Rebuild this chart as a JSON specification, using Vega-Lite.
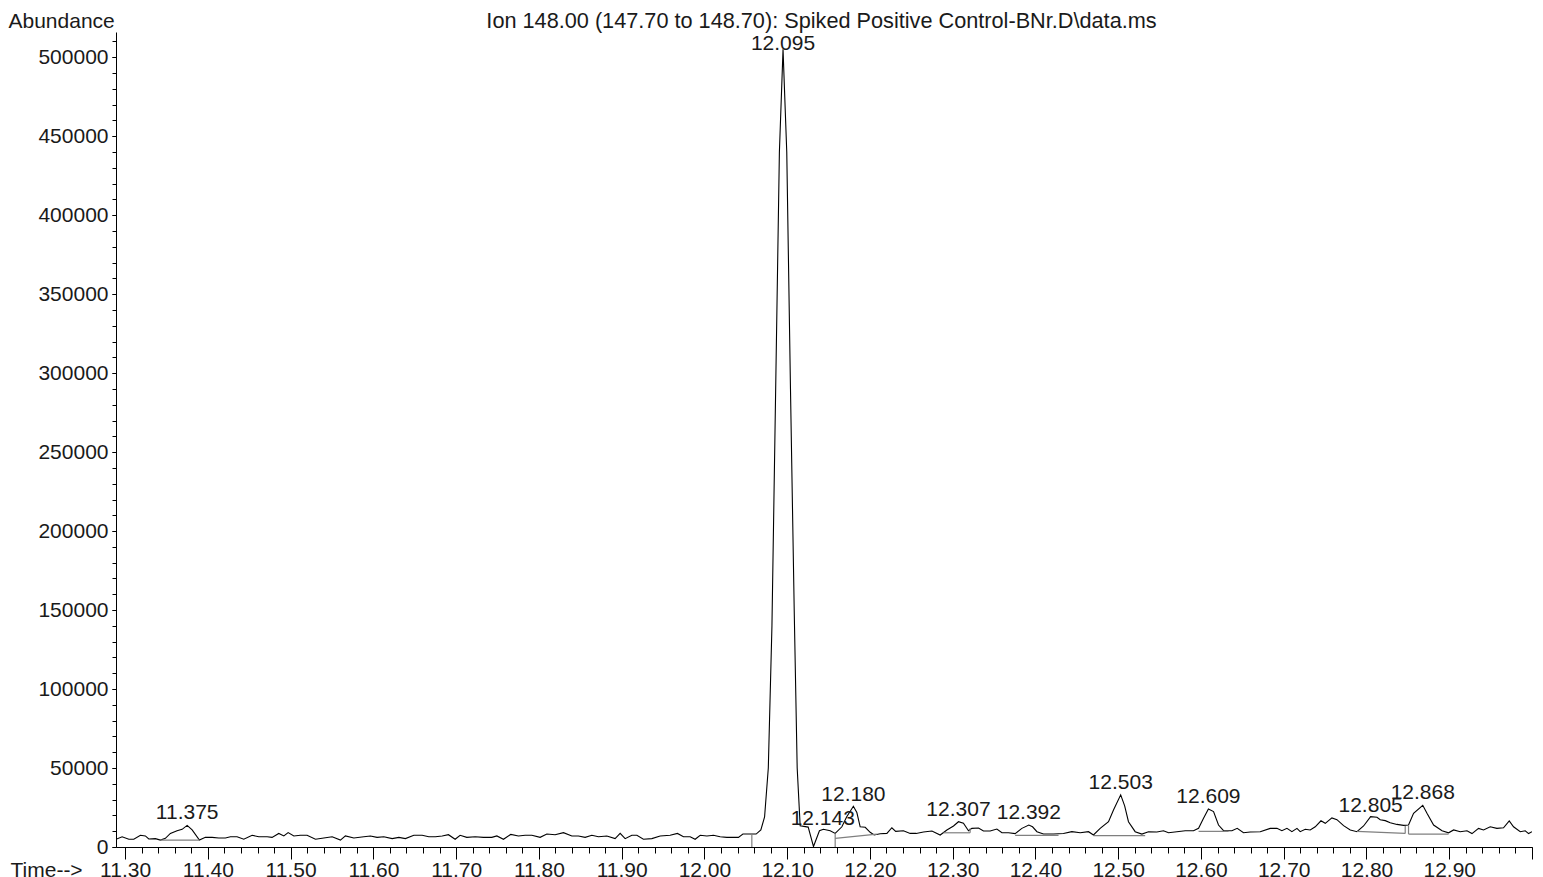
{
  "$schema": "https://vega.github.io/schema/vega-lite/v6.json",
  "width": 1416,
  "height": 815,
  "autosize": {"type": "none"},
  "padding": {"left": 116, "top": 32, "right": 11, "bottom": 30},
  "background": "white",
  "config": {
    "font": "Liberation Sans",
    "view": {"stroke": null},
    "axis": {"grid": false, "domainColor": "#000000", "tickColor": "#000000", "labelColor": "#1a1a1a", "titleColor": "#1a1a1a", "labelFontSize": 21, "titleFontSize": 21, "titleFontWeight": "normal", "labelOverlap": false, "labelFlush": false, "domainWidth": 1, "tickWidth": 1}
  },
  "datasets": {
    "trace": [
      {"t": 11.289, "a": 4900}, {"t": 11.2964, "a": 6500}, {"t": 11.3045, "a": 4900}, {"t": 11.3105, "a": 4900},
      {"t": 11.3185, "a": 7400}, {"t": 11.3245, "a": 7000}, {"t": 11.3286, "a": 5100}, {"t": 11.3366, "a": 5300},
      {"t": 11.3427, "a": 4400}, {"t": 11.3487, "a": 5500}, {"t": 11.3547, "a": 8600}, {"t": 11.3628, "a": 10300},
      {"t": 11.3689, "a": 11200}, {"t": 11.375, "a": 13700}, {"t": 11.381, "a": 10800}, {"t": 11.3898, "a": 4400},
      {"t": 11.397, "a": 6100}, {"t": 11.4051, "a": 6100}, {"t": 11.4132, "a": 5700}, {"t": 11.4212, "a": 5700},
      {"t": 11.4273, "a": 6500}, {"t": 11.4353, "a": 6500}, {"t": 11.4434, "a": 4900}, {"t": 11.4535, "a": 7400},
      {"t": 11.4616, "a": 6500}, {"t": 11.4716, "a": 6500}, {"t": 11.4776, "a": 6100}, {"t": 11.4857, "a": 8600},
      {"t": 11.4918, "a": 7000}, {"t": 11.497, "a": 9100}, {"t": 11.5039, "a": 7000}, {"t": 11.5118, "a": 7400},
      {"t": 11.5199, "a": 7400}, {"t": 11.53, "a": 4900}, {"t": 11.5401, "a": 5700}, {"t": 11.5502, "a": 6500},
      {"t": 11.5602, "a": 4400}, {"t": 11.5662, "a": 7000}, {"t": 11.5764, "a": 5700}, {"t": 11.5885, "a": 6500},
      {"t": 11.5964, "a": 7000}, {"t": 11.6045, "a": 6100}, {"t": 11.6126, "a": 6500}, {"t": 11.6227, "a": 5300},
      {"t": 11.6308, "a": 6100}, {"t": 11.6387, "a": 5300}, {"t": 11.6489, "a": 7400}, {"t": 11.6589, "a": 7400},
      {"t": 11.667, "a": 6500}, {"t": 11.675, "a": 6500}, {"t": 11.6831, "a": 7000}, {"t": 11.6907, "a": 7800},
      {"t": 11.6988, "a": 4900}, {"t": 11.7048, "a": 7400}, {"t": 11.7129, "a": 6100}, {"t": 11.723, "a": 6500},
      {"t": 11.733, "a": 6100}, {"t": 11.7431, "a": 6100}, {"t": 11.7492, "a": 7000}, {"t": 11.7572, "a": 4900},
      {"t": 11.7661, "a": 8000}, {"t": 11.7753, "a": 7000}, {"t": 11.7834, "a": 7400}, {"t": 11.7915, "a": 7400},
      {"t": 11.8015, "a": 6100}, {"t": 11.8096, "a": 8200}, {"t": 11.8196, "a": 7800}, {"t": 11.8297, "a": 9100},
      {"t": 11.8398, "a": 7000}, {"t": 11.8478, "a": 7000}, {"t": 11.8559, "a": 6100}, {"t": 11.864, "a": 7400},
      {"t": 11.872, "a": 6500}, {"t": 11.8821, "a": 7000}, {"t": 11.8921, "a": 5300}, {"t": 11.8982, "a": 8600},
      {"t": 11.9042, "a": 5300}, {"t": 11.9123, "a": 7400}, {"t": 11.9184, "a": 7400}, {"t": 11.9263, "a": 4900},
      {"t": 11.9365, "a": 5300}, {"t": 11.9465, "a": 7000}, {"t": 11.9586, "a": 7400}, {"t": 11.9674, "a": 8600},
      {"t": 11.9747, "a": 6500}, {"t": 11.9828, "a": 6500}, {"t": 11.9888, "a": 4900}, {"t": 11.9949, "a": 7400},
      {"t": 12.003, "a": 7000}, {"t": 12.0109, "a": 7400}, {"t": 12.019, "a": 6500}, {"t": 12.0271, "a": 6100},
      {"t": 12.0351, "a": 6100}, {"t": 12.0411, "a": 6100}, {"t": 12.0465, "a": 8200}, {"t": 12.0553, "a": 8200},
      {"t": 12.0625, "a": 8200}, {"t": 12.0682, "a": 10800}, {"t": 12.0727, "a": 19000}, {"t": 12.0772, "a": 50000},
      {"t": 12.0816, "a": 140000}, {"t": 12.0861, "a": 290000}, {"t": 12.0906, "a": 440000}, {"t": 12.095, "a": 505000},
      {"t": 12.0995, "a": 440000}, {"t": 12.104, "a": 290000}, {"t": 12.1085, "a": 150000}, {"t": 12.1121, "a": 50000},
      {"t": 12.1157, "a": 13500}, {"t": 12.1254, "a": 12600}, {"t": 12.1318, "a": 300}, {"t": 12.139, "a": 10300},
      {"t": 12.1438, "a": 11200}, {"t": 12.152, "a": 10300}, {"t": 12.158, "a": 8600}, {"t": 12.1661, "a": 12800},
      {"t": 12.1718, "a": 19000}, {"t": 12.18, "a": 25800}, {"t": 12.1842, "a": 21800}, {"t": 12.1882, "a": 12800},
      {"t": 12.1943, "a": 12500}, {"t": 12.2003, "a": 9300}, {"t": 12.2051, "a": 7600}, {"t": 12.2124, "a": 8400},
      {"t": 12.2205, "a": 8600}, {"t": 12.2265, "a": 12200}, {"t": 12.2311, "a": 9900}, {"t": 12.2405, "a": 10300},
      {"t": 12.2486, "a": 8600}, {"t": 12.2559, "a": 8600}, {"t": 12.2647, "a": 9500}, {"t": 12.2749, "a": 10100},
      {"t": 12.2849, "a": 7600}, {"t": 12.293, "a": 10800}, {"t": 12.301, "a": 13300}, {"t": 12.307, "a": 16000},
      {"t": 12.313, "a": 15000}, {"t": 12.3191, "a": 10300}, {"t": 12.3232, "a": 11800}, {"t": 12.3312, "a": 12000},
      {"t": 12.3372, "a": 10100}, {"t": 12.3453, "a": 10100}, {"t": 12.3534, "a": 11400}, {"t": 12.3595, "a": 9000},
      {"t": 12.3674, "a": 9000}, {"t": 12.3755, "a": 8500}, {"t": 12.3836, "a": 11800}, {"t": 12.392, "a": 13900},
      {"t": 12.3965, "a": 12800}, {"t": 12.4018, "a": 9700}, {"t": 12.4097, "a": 8200}, {"t": 12.4218, "a": 8200},
      {"t": 12.4339, "a": 8500}, {"t": 12.444, "a": 9700}, {"t": 12.4541, "a": 9000}, {"t": 12.4641, "a": 9700},
      {"t": 12.4701, "a": 7600}, {"t": 12.4782, "a": 11800}, {"t": 12.4883, "a": 16000}, {"t": 12.4943, "a": 23400},
      {"t": 12.503, "a": 33000}, {"t": 12.5078, "a": 26000}, {"t": 12.5124, "a": 16000}, {"t": 12.5205, "a": 9700},
      {"t": 12.5286, "a": 8200}, {"t": 12.5366, "a": 9700}, {"t": 12.5467, "a": 9500}, {"t": 12.5547, "a": 10300},
      {"t": 12.5608, "a": 9000}, {"t": 12.5709, "a": 9700}, {"t": 12.581, "a": 10300}, {"t": 12.591, "a": 10300},
      {"t": 12.5971, "a": 11800}, {"t": 12.6031, "a": 18200}, {"t": 12.609, "a": 24000}, {"t": 12.6152, "a": 22400},
      {"t": 12.6212, "a": 13900}, {"t": 12.6273, "a": 10300}, {"t": 12.6374, "a": 10300}, {"t": 12.6438, "a": 11800},
      {"t": 12.6514, "a": 9000}, {"t": 12.6595, "a": 9500}, {"t": 12.6716, "a": 9700}, {"t": 12.6837, "a": 11800},
      {"t": 12.6918, "a": 11800}, {"t": 12.6978, "a": 10300}, {"t": 12.7039, "a": 11800}, {"t": 12.7099, "a": 9700},
      {"t": 12.716, "a": 11800}, {"t": 12.7199, "a": 9700}, {"t": 12.726, "a": 11200}, {"t": 12.732, "a": 10800},
      {"t": 12.7381, "a": 12800}, {"t": 12.745, "a": 16600}, {"t": 12.7502, "a": 15000}, {"t": 12.7582, "a": 18400},
      {"t": 12.7643, "a": 17300}, {"t": 12.7723, "a": 13500}, {"t": 12.7804, "a": 10800}, {"t": 12.7885, "a": 9700},
      {"t": 12.7965, "a": 13300}, {"t": 12.805, "a": 19200}, {"t": 12.8127, "a": 18800}, {"t": 12.8166, "a": 17300},
      {"t": 12.8227, "a": 16700}, {"t": 12.8287, "a": 15400}, {"t": 12.8368, "a": 14300}, {"t": 12.8448, "a": 13700},
      {"t": 12.8508, "a": 13900}, {"t": 12.8569, "a": 21300}, {"t": 12.868, "a": 26400}, {"t": 12.8731, "a": 21300},
      {"t": 12.8811, "a": 13900}, {"t": 12.8913, "a": 10300}, {"t": 12.8992, "a": 9000}, {"t": 12.9053, "a": 10800},
      {"t": 12.9133, "a": 9700}, {"t": 12.9214, "a": 10300}, {"t": 12.9275, "a": 8500}, {"t": 12.9354, "a": 11800},
      {"t": 12.9415, "a": 10800}, {"t": 12.9495, "a": 12800}, {"t": 12.9576, "a": 11800}, {"t": 12.9656, "a": 12200},
      {"t": 12.9725, "a": 16500}, {"t": 12.9777, "a": 12800}, {"t": 12.9858, "a": 9700}, {"t": 12.9918, "a": 10300},
      {"t": 12.9959, "a": 8500}, {"t": 13.0, "a": 9700}
    ],
    "baselines": [
      {"t1": 11.3427, "t2": 11.3898, "a1": 4400, "a2": 4400},
      {"t1": 12.0573, "t2": 12.0573, "a1": 0, "a2": 8200},
      {"t1": 12.158, "t2": 12.158, "a1": 0, "a2": 8600},
      {"t1": 12.158, "t2": 12.2084, "a1": 5500, "a2": 8200},
      {"t1": 12.2889, "t2": 12.3211, "a1": 9000, "a2": 9000},
      {"t1": 12.3211, "t2": 12.3211, "a1": 9000, "a2": 11800},
      {"t1": 12.3755, "t2": 12.4279, "a1": 7400, "a2": 7400},
      {"t1": 12.4701, "t2": 12.5326, "a1": 7200, "a2": 7200},
      {"t1": 12.5971, "t2": 12.6333, "a1": 9900, "a2": 9900},
      {"t1": 12.7885, "t2": 12.8468, "a1": 9900, "a2": 8600},
      {"t1": 12.8468, "t2": 12.8468, "a1": 8600, "a2": 13300},
      {"t1": 12.8508, "t2": 12.8508, "a1": 8200, "a2": 13900},
      {"t1": 12.8508, "t2": 12.8992, "a1": 8200, "a2": 8200}
    ],
    "labels": [
      {"t": 11.375, "a": 17500, "label": "11.375"},
      {"t": 12.095, "a": 504500, "label": "12.095"},
      {"t": 12.143, "a": 13900, "label": "12.143"},
      {"t": 12.18, "a": 29300, "label": "12.180"},
      {"t": 12.307, "a": 19600, "label": "12.307"},
      {"t": 12.392, "a": 17500, "label": "12.392"},
      {"t": 12.503, "a": 36500, "label": "12.503"},
      {"t": 12.609, "a": 27700, "label": "12.609"},
      {"t": 12.805, "a": 22300, "label": "12.805"},
      {"t": 12.868, "a": 30200, "label": "12.868"}
    ]
  },
  "resolve": {"axis": {"x": "independent", "y": "independent"}},
  "layer": [
    {
      "data": {"name": "trace"},
      "mark": {"type": "line", "color": "#000000", "strokeWidth": 1.1, "interpolate": "linear", "clip": true},
      "encoding": {
        "x": {"field": "t", "type": "quantitative", "scale": {"domain": [11.289, 13.0], "nice": false, "zero": false},
          "axis": {"orient": "bottom", "title": null, "labels": false, "tickSize": 6, "domain": true,
            "values": [11.3,11.32,11.34,11.36,11.38,11.4,11.42,11.44,11.46,11.48,11.5,11.52,11.54,11.56,11.58,11.6,11.62,11.64,11.66,11.68,11.7,11.72,11.74,11.76,11.78,11.8,11.82,11.84,11.86,11.88,11.9,11.92,11.94,11.96,11.98,12,12.02,12.04,12.06,12.08,12.1,12.12,12.14,12.16,12.18,12.2,12.22,12.24,12.26,12.28,12.3,12.32,12.34,12.36,12.38,12.4,12.42,12.44,12.46,12.48,12.5,12.52,12.54,12.56,12.58,12.6,12.62,12.64,12.66,12.68,12.7,12.72,12.74,12.76,12.78,12.8,12.82,12.84,12.86,12.88,12.9,12.92,12.94,12.96,12.98,13]}},
        "y": {"field": "a", "type": "quantitative", "scale": {"domain": [0, 516000], "nice": false},
          "axis": {"orient": "left", "title": null, "labels": false, "tickSize": 4, "domain": true,
            "values": [0,10000,20000,30000,40000,50000,60000,70000,80000,90000,100000,110000,120000,130000,140000,150000,160000,170000,180000,190000,200000,210000,220000,230000,240000,250000,260000,270000,280000,290000,300000,310000,320000,330000,340000,350000,360000,370000,380000,390000,400000,410000,420000,430000,440000,450000,460000,470000,480000,490000,500000,510000]}}
      }
    },
    {
      "data": {"name": "baselines"},
      "mark": {"type": "rule", "color": "#7f7f7f", "strokeWidth": 1.2},
      "encoding": {
        "x": {"field": "t1", "type": "quantitative",
          "axis": {"orient": "bottom", "title": "Time-->", "tickSize": 12, "domain": false, "labelPadding": 0, "labelBaseline": "top",
            "values": [11.3,11.4,11.5,11.6,11.7,11.8,11.9,12,12.1,12.2,12.3,12.4,12.5,12.6,12.7,12.8,12.9,13],
            "labelExpr": "datum.value > 12.95 ? '' : format(datum.value, '.2f')",
            "titleX": -106, "titleY": 12, "titleAlign": "left", "titleBaseline": "top", "titleAnchor": null}},
        "x2": {"field": "t2"},
        "y": {"field": "a1", "type": "quantitative",
          "axis": {"orient": "left", "title": "Abundance", "tickSize": 4, "domain": false, "labelPadding": 4, "format": "d",
            "values": [0,50000,100000,150000,200000,250000,300000,350000,400000,450000,500000],
            "titleAngle": 0, "titleX": -108, "titleY": -5, "titleAlign": "left", "titleBaseline": "alphabetic"}},
        "y2": {"field": "a2"}
      }
    },
    {
      "data": {"name": "labels"},
      "mark": {"type": "text", "fontSize": 21, "align": "center", "baseline": "alphabetic", "color": "#1a1a1a"},
      "encoding": {
        "x": {"field": "t", "type": "quantitative",
          "axis": {"orient": "top", "title": "Ion 148.00 (147.70 to 148.70): Spiked Positive Control-BNr.D\\data.ms", "domain": false, "ticks": false, "labels": false,
            "titleX": 705, "titleY": -5, "titleAlign": "center", "titleBaseline": "alphabetic", "titleFontSize": 21.7}},
        "y": {"field": "a", "type": "quantitative", "axis": null},
        "text": {"field": "label", "type": "nominal"}
      }
    }
  ]
}
